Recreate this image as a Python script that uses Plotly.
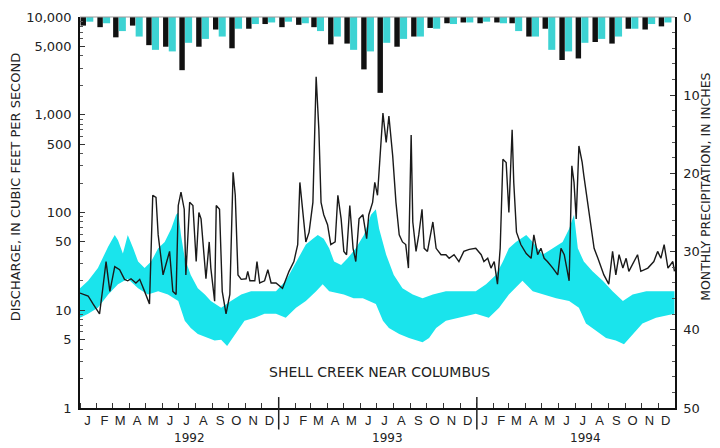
import pandas as pd
import plotly.graph_objects as go

# ---------------- data ----------------
month_starts = pd.date_range("1992-01-01", periods=36, freq="MS")
month_letters = ["J", "F", "M", "A", "M", "J", "J", "A", "S", "O", "N", "D",
                 "J", "F", "M", "A", "M", "J", "J", "A", "S", "O", "N", "D",
                 "J", "F", "M", "A", "M", "J", "J", "A", "S", "O", "N", "D"]
years = ["1992", "1993", "1994"]

# monthly precipitation, inches (black = observed, cyan = normal)
precip_observed = [1.1, 1.3, 2.6, 1.1, 3.6, 3.8, 6.8, 3.8, 1.6, 4.0, 1.5, 0.9,
                   1.3, 1.0, 1.3, 3.5, 3.4, 6.7, 9.7, 3.8, 2.5, 1.4, 0.8, 0.7,
                   0.8, 0.7, 0.8, 2.5, 1.5, 5.5, 5.3, 3.2, 3.4, 1.5, 1.6, 1.2]
precip_normal = [0.6, 0.8, 1.8, 2.5, 4.2, 4.4, 3.3, 2.8, 2.5, 1.5, 0.9, 0.7,
                 0.6, 0.8, 1.8, 2.5, 4.2, 4.4, 3.3, 2.8, 2.5, 1.5, 0.9, 0.7,
                 0.6, 0.8, 1.8, 2.5, 4.2, 4.4, 3.3, 2.8, 2.5, 1.5, 0.9, 0.7]

# daily discharge (cubic feet per second), read at turning points
q_dates = [
    "1992-01-01", "1992-01-16", "1992-01-25", "1992-02-06", "1992-02-12", "1992-02-18", "1992-02-25",
    "1992-03-05", "1992-03-14", "1992-03-23", "1992-03-29", "1992-04-04", "1992-04-13", "1992-04-20",
    "1992-04-29", "1992-05-08", "1992-05-14", "1992-05-20", "1992-05-24", "1992-05-27", "1992-06-02",
    "1992-06-07", "1992-06-14", "1992-06-20", "1992-06-26", "1992-06-30", "1992-07-05", "1992-07-11",
    "1992-07-14", "1992-07-21", "1992-07-27", "1992-08-02", "1992-08-07", "1992-08-11", "1992-08-15",
    "1992-08-20", "1992-08-26", "1992-08-29", "1992-09-05", "1992-09-08", "1992-09-14", "1992-09-19",
    "1992-09-26", "1992-10-03", "1992-10-09", "1992-10-13", "1992-10-18", "1992-10-24", "1992-11-02",
    "1992-11-05", "1992-11-09", "1992-11-18", "1992-11-22", "1992-11-27", "1992-12-06", "1992-12-12",
    "1992-12-18", "1992-12-27",
    "1993-01-08", "1993-01-20", "1993-01-29", "1993-02-05", "1993-02-09", "1993-02-14", "1993-02-20",
    "1993-02-26", "1993-03-05", "1993-03-11", "1993-03-16", "1993-03-20", "1993-03-25", "1993-04-01",
    "1993-04-07", "1993-04-15", "1993-04-20", "1993-04-26", "1993-05-01", "1993-05-06", "1993-05-12",
    "1993-05-18", "1993-05-23", "1993-05-29", "1993-06-05", "1993-06-12", "1993-06-16", "1993-06-23",
    "1993-06-27", "1993-07-02", "1993-07-08", "1993-07-12", "1993-07-18", "1993-07-23", "1993-07-30",
    "1993-08-05", "1993-08-11", "1993-08-17", "1993-08-23", "1993-08-28", "1993-09-02", "1993-09-05",
    "1993-09-11", "1993-09-16", "1993-09-22", "1993-09-26", "1993-10-02", "1993-10-12", "1993-10-18",
    "1993-10-27", "1993-11-05", "1993-11-11", "1993-11-20", "1993-11-29", "1993-12-08", "1993-12-18",
    "1993-12-30",
    "1994-01-09", "1994-01-14", "1994-01-21", "1994-01-27", "1994-02-02", "1994-02-08", "1994-02-13",
    "1994-02-18", "1994-02-24", "1994-03-01", "1994-03-07", "1994-03-10", "1994-03-15", "1994-03-23",
    "1994-04-02", "1994-04-11", "1994-04-16", "1994-04-23", "1994-04-29", "1994-05-05", "1994-05-11",
    "1994-05-21", "1994-05-30", "1994-06-05", "1994-06-11", "1994-06-20", "1994-06-25", "1994-06-29",
    "1994-07-03", "1994-07-08", "1994-07-14", "1994-07-17", "1994-07-24", "1994-07-30", "1994-08-05",
    "1994-08-12", "1994-08-18", "1994-08-23", "1994-09-01", "1994-09-08", "1994-09-14", "1994-09-20",
    "1994-09-27", "1994-10-03", "1994-10-08", "1994-10-17", "1994-10-24", "1994-10-30", "1994-11-12",
    "1994-11-23", "1994-11-30", "1994-12-06", "1994-12-12", "1994-12-19", "1994-12-28", "1994-12-31",
]
q_values = [
    15, 14, 11.6, 9.2, 16.8, 31.5, 15.6,
    28, 26, 20.7, 20, 21, 19, 20.7,
    15.6, 11.6, 150, 143, 59, 43, 23,
    29, 40, 15.6, 14.5, 118, 162, 108,
    23, 127, 118, 31.5, 100, 86, 50,
    21, 50, 27, 12.4, 118, 108, 15.6,
    9.2, 14.5, 258, 150, 23, 20.7, 21,
    25, 20, 20, 31.5, 19, 20, 26,
    19, 19,
    16.8, 25, 31.5, 47, 203, 100, 50,
    63, 127, 2450, 700, 127, 95, 75,
    47, 50, 150, 86, 40, 37, 118,
    43, 31.5, 86, 95, 54, 95, 127,
    203, 150, 480, 1040, 520, 970, 380,
    127, 59, 50, 47, 27, 620, 80,
    40, 59, 108, 43, 40, 80, 43,
    37, 37, 34, 37, 31.5, 40, 42,
    43,
    37, 31.5, 34, 27, 31.5, 18.5, 43,
    350, 325, 100, 700, 203, 63, 47,
    38, 34, 59, 37, 43, 34, 31.5,
    27, 23, 43, 37, 20, 300, 203,
    86, 480, 325, 240, 127, 80, 43,
    34, 27, 23, 18.5, 40, 23, 37,
    27, 34, 25, 31.5, 37, 25, 27,
    31.5, 40, 34, 47, 27, 31.5, 25,
]

# normal range of daily discharge (cyan band): upper and lower edges
band_upper_dates = [
    "1992-01-01", "1992-01-16", "1992-02-03", "1992-02-22", "1992-03-05", "1992-03-11", "1992-03-20",
    "1992-03-29", "1992-04-08", "1992-04-17", "1992-04-29", "1992-05-11", "1992-05-24", "1992-06-05",
    "1992-06-17", "1992-06-26", "1992-06-30", "1992-07-05", "1992-07-12", "1992-07-23", "1992-08-05",
    "1992-08-18", "1992-08-29", "1992-09-17", "1992-10-05", "1992-10-24", "1992-11-11", "1992-12-06",
    "1992-12-27", "1993-01-14", "1993-02-02", "1993-02-20", "1993-03-05", "1993-03-14", "1993-03-25",
    "1993-04-04", "1993-04-13", "1993-04-26", "1993-05-08", "1993-05-23", "1993-06-07", "1993-06-20",
    "1993-06-29", "1993-07-05", "1993-07-18", "1993-08-01", "1993-08-17", "1993-09-05", "1993-09-23",
    "1993-10-12", "1993-11-05", "1993-11-29", "1993-12-30", "1994-01-18", "1994-02-05", "1994-02-18",
    "1994-03-01", "1994-03-14", "1994-04-02", "1994-04-14", "1994-05-02", "1994-05-21", "1994-06-08",
    "1994-06-20", "1994-06-29", "1994-07-06", "1994-07-17", "1994-08-02", "1994-08-21", "1994-09-08",
    "1994-09-27", "1994-10-15", "1994-11-09", "1994-12-03", "1994-12-31",
]
band_upper = [
    16.8, 20, 27, 45, 59, 52, 38,
    59, 43, 31.5, 27, 31.5, 43, 50,
    68, 95, 100, 59, 34, 23, 16.8,
    14.5, 12.4, 10.6, 12.4, 14.5, 15.6, 15.6,
    15.6, 20, 31.5, 47, 54, 59, 54,
    43, 31.5, 29, 34, 43, 59, 95,
    108, 68, 37, 23, 16.8, 14.5, 13.3,
    14.5, 15.6, 15.6, 15.6, 18.5, 23, 31.5,
    43, 50, 59, 50, 37, 43, 50,
    68, 95, 43, 31.5, 25, 20, 15.6,
    12.4, 14.5, 15.6, 15.6, 15.6,
]
band_lower_dates = [
    "1992-01-01", "1992-01-16", "1992-02-03", "1992-02-22", "1992-03-11", "1992-03-29", "1992-04-17",
    "1992-05-05", "1992-05-24", "1992-06-11", "1992-06-30", "1992-07-12", "1992-07-23", "1992-08-05",
    "1992-08-24", "1992-09-05", "1992-09-17", "1992-09-28", "1992-10-12", "1992-10-30", "1992-11-18",
    "1992-12-06", "1992-12-27", "1993-01-14", "1993-02-02", "1993-02-20", "1993-03-11", "1993-03-23",
    "1993-04-04", "1993-05-01", "1993-05-19", "1993-06-05", "1993-06-29", "1993-07-12", "1993-07-23",
    "1993-08-11", "1993-08-29", "1993-09-23", "1993-10-05", "1993-10-18", "1993-11-05", "1993-11-29",
    "1993-12-30", "1994-01-23", "1994-02-11", "1994-03-01", "1994-03-26", "1994-04-14", "1994-05-02",
    "1994-05-27", "1994-06-20", "1994-07-08", "1994-07-21", "1994-08-08", "1994-08-27", "1994-09-14",
    "1994-09-29", "1994-10-15", "1994-11-02", "1994-11-27", "1994-12-31",
]
band_lower = [
    8.4, 9.2, 10.6, 14.5, 18.5, 21, 16.8,
    14.5, 15.6, 14.5, 12.4, 7.8, 6.6, 5.7,
    5.2, 4.9, 5.0, 4.3, 5.5, 7.8, 8.4,
    9.2, 9.2, 8.4, 10.6, 12.4, 15.6, 18.5,
    15.6, 14.5, 13.3, 13.3, 11.6, 7.8, 6.6,
    5.7, 5.2, 4.7, 5.2, 6.6, 7.8, 8.4,
    9.2, 8.4, 10.6, 14.5, 20, 15.6, 14.5,
    13.3, 12.4, 10.6, 7.3, 6.2, 5.2, 4.9,
    4.5, 5.7, 7.3, 8.4, 9.2,
]

left_tickvals = [1, 5, 10, 50, 100, 500, 1000, 5000, 10000]
left_ticktext = ["1", "5", "10", "50", "100", "500", "1,000", "5,000", "10,000"]
right_tickvals = [0, 10, 20, 30, 40, 50]

# ---------------- styling / derived ----------------
CYAN_BAND = "#1ae4ec"
CYAN_BAR = "#3dd3d3"
BLACK = "#111111"
FONT = "DejaVu Sans"
DAY_MS = 86400000

mid_month = [d + pd.Timedelta(days=14) for d in month_starts]
black_x = [d + pd.Timedelta(days=6) for d in month_starts]
cyan_x = [d + pd.Timedelta(days=18) for d in month_starts]

left_minor = [m * 10 ** e for e in range(4) for m in (2, 3, 4, 6, 7, 8, 9)]
right_minor = list(range(0, 51, 2))

fig = go.Figure()

# cyan band polygon
band_x = list(band_upper_dates) + list(reversed(band_lower_dates))
band_y = list(band_upper) + list(reversed(band_lower))
fig.add_trace(go.Scatter(
    x=band_x, y=band_y, mode="lines", fill="toself",
    fillcolor=CYAN_BAND, line=dict(width=0, color=CYAN_BAND),
    hoverinfo="skip", showlegend=False, xaxis="x", yaxis="y"))

# discharge line
fig.add_trace(go.Scatter(
    x=q_dates, y=q_values, mode="lines",
    line=dict(color="#1a1a1a", width=1.4),
    showlegend=False, xaxis="x", yaxis="y"))

# precipitation bars hanging from the top
fig.add_trace(go.Bar(
    x=black_x, y=precip_observed, width=10 * DAY_MS,
    marker=dict(color=BLACK, line=dict(width=0)),
    showlegend=False, xaxis="x", yaxis="y2"))
fig.add_trace(go.Bar(
    x=cyan_x, y=precip_normal, width=13 * DAY_MS,
    marker=dict(color=CYAN_BAR, line=dict(width=0)),
    showlegend=False, xaxis="x", yaxis="y2"))

year_annots = []
for yr in years:
    year_annots.append(dict(
        x=f"{yr}-07-21", y=-0.077, xref="x", yref="paper",
        text=yr, showarrow=False, font=dict(family=FONT, size=12, color="#222"),
        xanchor="center", yanchor="middle"))

shapes = []
for yr in years[1:]:
    shapes.append(dict(type="line", xref="x", yref="paper",
                       x0=f"{yr}-01-01", x1=f"{yr}-01-01", y0=-0.055, y1=0.028,
                       line=dict(color="#222", width=1.5)))
shapes.append(dict(type="line", xref="paper", yref="paper", x0=0, x1=1, y0=1, y1=1,
                   line=dict(color="#999", width=1)))

# the page body adds an 8 px margin, so the figure is sized/offset to compensate
fig.update_layout(
    width=712, height=440,
    margin=dict(l=72, r=45, t=9, b=40, autoexpand=False),
    paper_bgcolor="white", plot_bgcolor="white",
    barmode="overlay",
    font=dict(family=FONT, color="#222"),
    xaxis=dict(
        type="date", range=["1992-01-01", "1995-01-01"], automargin=False,
        tickmode="array", tickvals=mid_month, ticktext=month_letters,
        ticks="", tickfont=dict(family="Liberation Sans", size=13, color="#222"),
        showline=True, linecolor="#111", linewidth=1.5,
        showgrid=False, zeroline=False,
        minor=dict(tickmode="array", tickvals=list(month_starts), ticks="inside",
                   ticklen=5, tickcolor="#333", tickwidth=1, showgrid=False),
    ),
    yaxis=dict(
        type="log", range=[0, 4], automargin=False,
        tickmode="array", tickvals=left_tickvals, ticktext=left_ticktext,
        ticks="inside", ticklen=5, tickcolor="#333",
        tickfont=dict(family=FONT, size=13, color="#222"),
        ticklabelstandoff=4, ticklabeloverflow="allow",
        minor=dict(tickmode="array", tickvals=left_minor, ticks="inside",
                   ticklen=3, tickcolor="#555", showgrid=False),
        showline=True, linecolor="#111", linewidth=1.5,
        showgrid=False, zeroline=False,
    ),
    yaxis2=dict(
        overlaying="y", side="right", range=[50, 0], automargin=False,
        tickmode="array", tickvals=right_tickvals,
        ticks="inside", ticklen=5, tickcolor="#333",
        tickfont=dict(family=FONT, size=13, color="#222"),
        ticklabelstandoff=4, ticklabeloverflow="allow",
        minor=dict(tickmode="array", tickvals=right_minor, ticks="inside",
                   ticklen=3, tickcolor="#555", showgrid=False),
        showline=True, linecolor="#111", linewidth=1.5,
        showgrid=False, zeroline=False,
    ),
    shapes=shapes,
    annotations=year_annots + [
        dict(text="DISCHARGE, IN CUBIC FEET PER SECOND", textangle=-90,
             x=-0.109, y=0.565, xref="paper", yref="paper", showarrow=False,
             font=dict(family=FONT, size=13, color="#222"),
             xanchor="center", yanchor="middle"),
        dict(text="MONTHLY PRECIPITATION, IN INCHES", textangle=-90,
             x=1.05, y=0.565, xref="paper", yref="paper", showarrow=False,
             font=dict(family=FONT, size=12.5, color="#222"),
             xanchor="center", yanchor="middle"),
        dict(text="SHELL CREEK NEAR COLUMBUS",
             x=0.503, y=0.092, xref="paper", yref="paper", showarrow=False,
             font=dict(family=FONT, size=14, color="#222"),
             xanchor="center", yanchor="middle"),
    ],
)

fig.write_html("out.html")
